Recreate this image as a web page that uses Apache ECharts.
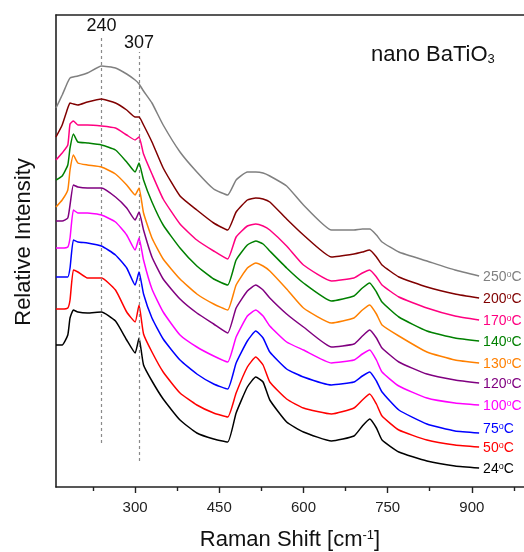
<!DOCTYPE html>
<html>
<head>
<meta charset="utf-8">
<script src="https://cdn.jsdelivr.net/npm/echarts@6/dist/echarts.min.js"></script>
<style>
html,body{margin:0;padding:0;background:#fff;}
#chart{width:524px;height:552px;}
</style>
</head>
<body>
<div id="chart"></div>
<script>
// Raman shift grid (cm^-1) at which each curve was read
const wavenumbers = [159,170,180,184,190,198,215,240,265,285,300,307,315,330,350,380,410,440,465,480,500,515,528,540,570,600,650,690,705,718,730,740,770,820,870,913];

// Relative intensity (arbitrary units, stacked as in the figure)
const int24  = [142,142,152,169,177,175,174,175,166,147,134,149,122,106,88,67,54,48,45,74,100,110,105,87,65,55,46,51,61,68,59,47,35,26,21,19];
const int50  = [178,178,179,187,217,215,209,209,197,175,165,182,153,135,115,94,82,74,70,94,120,130,122,105,88,79,73,79,87,93,83,71,57,47,42,40];
const int75  = [210,210,210,219,247,245,244,241,232,219,202,215,193,169,148,127,113,103,98,124,146,156,149,135,118,110,102,105,111,115,106,95,77,63,56,54];
const int100 = [239,239,240,249,277,274,274,272,265,252,237,249,227,198,175,152,140,131,125,150,171,177,171,161,145,137,124,127,133,137,127,115,101,89,84,82];
const int120 = [266,266,269,282,302,300,299,299,290,279,267,275,257,230,208,188,174,163,154,179,196,202,197,189,173,160,140,143,151,157,149,139,125,113,107,104];
const int130 = [280,287,297,317,332,324,322,320,313,302,292,299,274,249,228,208,193,183,177,202,219,224,221,216,198,179,164,169,177,182,173,162,151,135,127,124];
const int140 = [307,311,322,339,353,345,344,342,337,325,315,324,307,285,262,239,221,208,202,227,242,246,243,236,219,204,186,191,199,204,195,185,170,156,149,146];
const int170 = [327,334,342,363,366,362,362,361,359,352,347,350,333,313,288,263,247,236,228,250,261,263,261,257,241,222,206,209,214,217,210,202,190,179,171,167];
const int200 = [350,362,379,384,383,382,385,388,384,377,370,370,362,345,319,291,277,264,257,275,287,289,288,285,268,252,230,233,235,237,230,222,210,200,193,189];
const int250 = [379,392,405,409,410,411,414,421,419,413,407,403,396,384,362,335,315,298,292,307,315,315,314,311,301,282,257,257,258,258,252,245,235,226,217,211];

const temperatures = ['24','50','75','100','120','130','140','170','200','250'];
const intensities = [int24,int50,int75,int100,int120,int130,int140,int170,int200,int250];
const colors = ['#000000','#ff0000','#0000ff','#ff00ff','#800080','#ff8000','#008000','#ff0080','#800000','#808080'];

// x-axis ticks
const majorTicks = [300,450,600,750,900];
const minorTicks = [225,375,525,675,825,975];
const xRange = [159, 993];
const yRange = [0, 472];

// marked peaks and their dashed-line extents (intensity units)
const peakPositions = [240, 307];
const peakLineLow  = [44, 26];
const peakLineHigh = [452, 435];

const FONT = "'Liberation Sans', Arial, sans-serif";

const chart = echarts.init(document.getElementById('chart'), null, {renderer:'canvas'});

const series = temperatures.map((t, i) => {
  const c = colors[i];
  const s = {
    name: t + '°C',
    type: 'line',
    xAxisIndex: 0,
    yAxisIndex: 0,
    data: wavenumbers.map((w, k) => [w, intensities[i][k]]),
    showSymbol: false,
    symbol: 'none',
    smooth: 0.15,
    lineStyle: {color: c, width: 1.5},
    itemStyle: {color: c},
    z: 3 + i,
    endLabel: {
      show: true,
      distance: 4,
      offset: t === '75' ? [0, -4] : [0, 1],
      formatter: () => '{n|' + t + '}{s|o}{n|C}',
      rich: {
        n: {fontSize: 14, fontFamily: FONT, color: c},
        s: {fontSize: 9, fontFamily: FONT, color: c, verticalAlign: 'top', lineHeight: 11}
      }
    }
  };
  if (i === 0) {
    s.markLine = {
      silent: true,
      symbol: ['none','none'],
      animation: false,
      lineStyle: {type: [3, 3], color: '#8a8a8a', width: 1.2},
      label: {show: true, position: 'end', distance: 0, fontSize: 18, fontFamily: FONT, color: '#111'},
      data: peakPositions.map((p, k) => [
        {coord: [p, peakLineLow[k]], label: {formatter: String(p)}},
        {coord: [p, peakLineHigh[k]]}
      ])
    };
  }
  return s;
});

const option = {
  animation: false,
  backgroundColor: '#ffffff',
  textStyle: {fontFamily: FONT},
  title: {
    text: '{a|nano BaTiO}{b|3}',
    left: 366,
    top: 39,
    textStyle: {
      fontWeight: 'normal',
      rich: {
        a: {fontSize: 22, fontFamily: FONT, fontWeight: 'normal', color: '#111'},
        b: {fontSize: 13, fontFamily: FONT, fontWeight: 'normal', color: '#111', verticalAlign: 'bottom', padding: [8,0,0,0]}
      }
    }
  },
  grid: {left: 56, right: 0, top: 15, bottom: 65, containLabel: false, outerBoundsMode: 'none'},
  xAxis: [
    {
      type: 'value', position: 'bottom', min: xRange[0], max: xRange[1],
      name: '{a|Raman Shift [cm}{s|-1}{a|]}',
      nameLocation: 'middle', nameGap: 42,
      nameTextStyle: {
        rich: {
          a: {fontSize: 22, fontFamily: FONT, color: '#111'},
          s: {fontSize: 13, fontFamily: FONT, color: '#111', verticalAlign: 'top', lineHeight: 16}
        }
      },
      axisLine: {show: true, onZero: false, lineStyle: {color: '#222', width: 1.6}},
      axisTick: {show: true, inside: false, length: 6, customValues: majorTicks, lineStyle: {color: '#222', width: 1.4}},
      axisLabel: {show: true, customValues: majorTicks, margin: 13, fontSize: 15, fontFamily: FONT, color: '#222'},
      splitLine: {show: false}
    },
    {
      type: 'value', position: 'bottom', min: xRange[0], max: xRange[1],
      axisLine: {show: false, onZero: false},
      axisTick: {show: true, inside: false, length: 4, customValues: minorTicks, lineStyle: {color: '#222', width: 1.4}},
      axisLabel: {show: false},
      splitLine: {show: false}
    },
    {
      type: 'value', position: 'top', min: xRange[0], max: xRange[1],
      axisLine: {show: true, onZero: false, lineStyle: {color: '#222', width: 1.6}},
      axisTick: {show: false},
      axisLabel: {show: false},
      splitLine: {show: false}
    }
  ],
  yAxis: {
    type: 'value', min: yRange[0], max: yRange[1],
    axisLine: {show: true, onZero: false, lineStyle: {color: '#222', width: 1.6}},
    axisTick: {show: false},
    axisLabel: {show: false},
    splitLine: {show: false}
  },
  graphic: [{
    type: 'text',
    x: 24, y: 242,
    rotation: Math.PI / 2,
    style: {text: 'Relative Intensity', fontSize: 22, fontFamily: FONT, fill: '#111', align: 'center', verticalAlign: 'middle'}
  }],
  series: series
};

chart.setOption(option);
</script>
</body>
</html>
